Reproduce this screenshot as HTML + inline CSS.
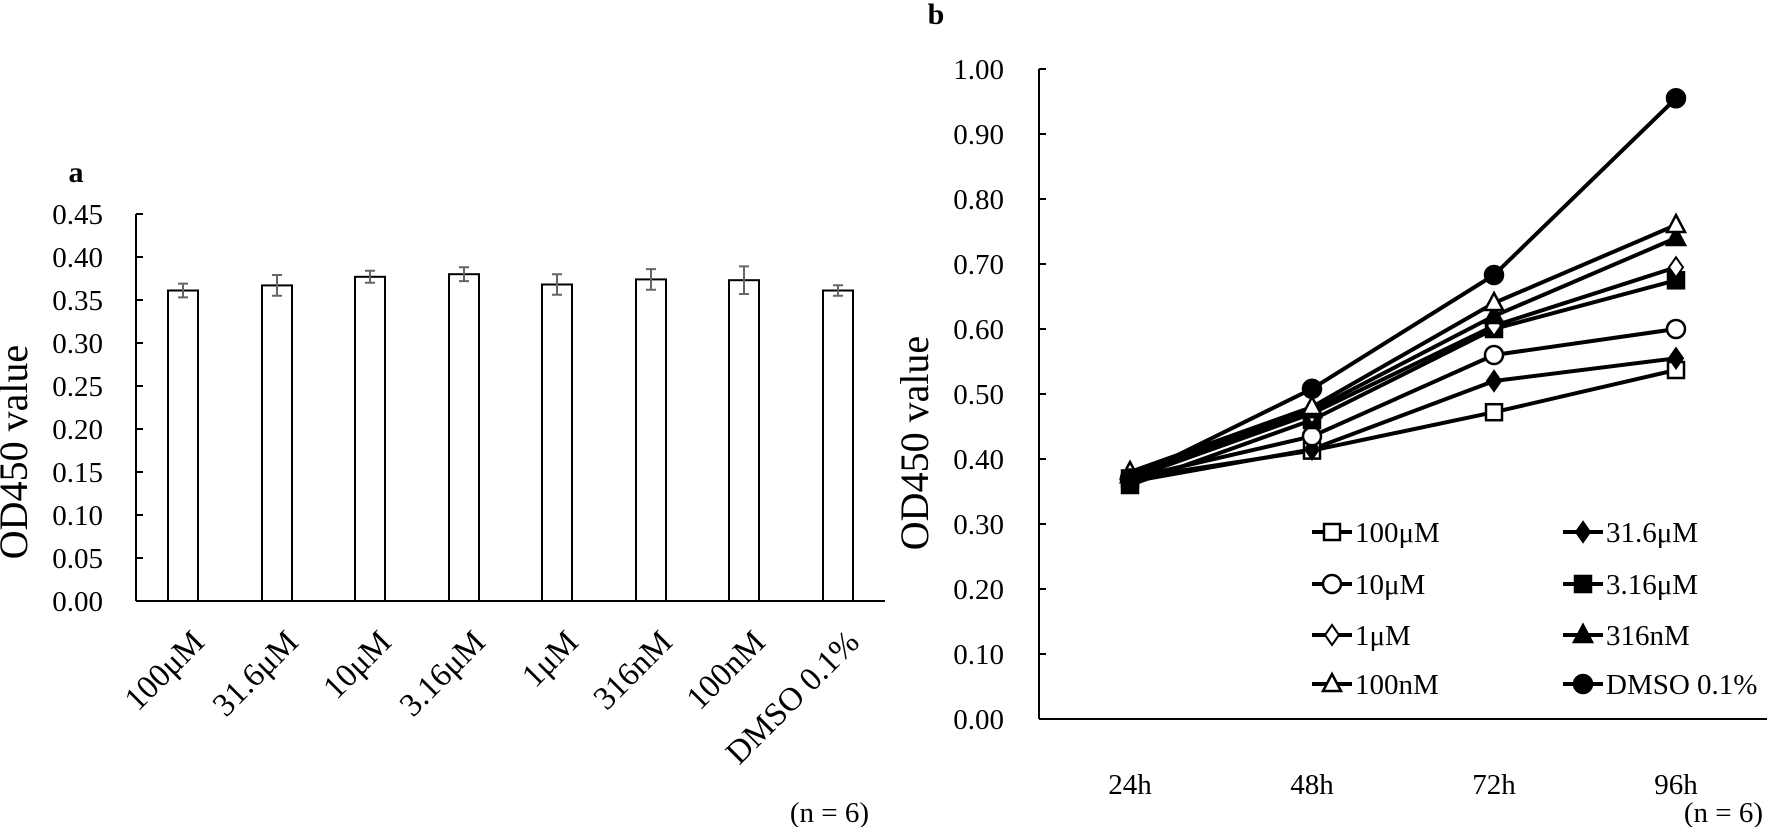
<!DOCTYPE html>
<html><head><meta charset="utf-8"><style>
html,body{margin:0;padding:0;background:#fff;}
svg{display:block;font-family:"Liberation Serif",serif;}
</style></head><body>
<svg width="1767" height="827" viewBox="0 0 1767 827" xmlns="http://www.w3.org/2000/svg">
<!-- Panel a -->
<text x="76" y="182" font-size="30" font-weight="bold" text-anchor="middle">a</text>
<g stroke="#000" stroke-width="2" fill="none">
<line x1="136" y1="214" x2="136" y2="601"/>
<line x1="136" y1="601" x2="885" y2="601"/>
<line x1="136" y1="214" x2="143" y2="214"/><line x1="136" y1="257" x2="143" y2="257"/>
<line x1="136" y1="300" x2="143" y2="300"/><line x1="136" y1="343" x2="143" y2="343"/>
<line x1="136" y1="386" x2="143" y2="386"/><line x1="136" y1="429" x2="143" y2="429"/>
<line x1="136" y1="472" x2="143" y2="472"/><line x1="136" y1="515" x2="143" y2="515"/>
<line x1="136" y1="558" x2="143" y2="558"/>
</g>
<g font-size="29" text-anchor="end">
<text x="103" y="224">0.45</text><text x="103" y="267">0.40</text><text x="103" y="310">0.35</text>
<text x="103" y="353">0.30</text><text x="103" y="396">0.25</text><text x="103" y="439">0.20</text>
<text x="103" y="482">0.15</text><text x="103" y="525">0.10</text><text x="103" y="568">0.05</text>
<text x="103" y="611">0.00</text>
</g>
<text transform="translate(27,452) rotate(-90)" font-size="40" text-anchor="middle">OD450 value</text>
<g stroke="#000" stroke-width="2" fill="#fff">
<rect x="168" y="290.5" width="30" height="310.5"/>
<rect x="262" y="285.4" width="30" height="315.6"/>
<rect x="355" y="276.8" width="30" height="324.2"/>
<rect x="449" y="274.2" width="30" height="326.8"/>
<rect x="542" y="284.5" width="30" height="316.5"/>
<rect x="636" y="279.4" width="30" height="321.6"/>
<rect x="729" y="280.2" width="30" height="320.8"/>
<rect x="823" y="290.5" width="30" height="310.5"/>
</g>
<g stroke="#666" stroke-width="2" fill="none">
<path d="M183 283.6V297.4M178 283.6h10M178 297.4h10"/>
<path d="M277 275V295.8M272 275h10M272 295.8h10"/>
<path d="M370 270.8V282.8M365 270.8h10M365 282.8h10"/>
<path d="M464 267.3V281.1M459 267.3h10M459 281.1h10"/>
<path d="M557 274.2V294.8M552 274.2h10M552 294.8h10"/>
<path d="M651 269.1V289.7M646 269.1h10M646 289.7h10"/>
<path d="M744 266.4V294M739 266.4h10M739 294h10"/>
<path d="M838 285.3V295.7M833 285.3h10M833 295.7h10"/>
</g>
<g font-size="33" text-anchor="end">
<text transform="translate(206,644) rotate(-45)">100μM</text>
<text transform="translate(300,644) rotate(-45)">31.6μM</text>
<text transform="translate(393,644) rotate(-45)">10μM</text>
<text transform="translate(487,644) rotate(-45)">3.16μM</text>
<text transform="translate(580,644) rotate(-45)">1μM</text>
<text transform="translate(674,644) rotate(-45)">316nM</text>
<text transform="translate(767,644) rotate(-45)">100nM</text>
<text transform="translate(861,644) rotate(-45)">DMSO 0.1%</text>
</g>
<text x="869" y="822" font-size="29" text-anchor="end">(n = 6)</text>

<!-- Panel b -->
<text x="936" y="24" font-size="30" font-weight="bold" text-anchor="middle">b</text>
<g stroke="#000" stroke-width="2" fill="none">
<line x1="1039" y1="69" x2="1039" y2="719"/>
<line x1="1039" y1="719" x2="1767" y2="719"/>
<path d="M1039 69h7M1039 134h7M1039 199h7M1039 264h7M1039 329h7M1039 394h7M1039 459h7M1039 524h7M1039 589h7M1039 654h7"/>
</g>
<g font-size="29" text-anchor="end">
<text x="1004" y="79">1.00</text><text x="1004" y="144">0.90</text><text x="1004" y="209">0.80</text>
<text x="1004" y="274">0.70</text><text x="1004" y="339">0.60</text><text x="1004" y="404">0.50</text>
<text x="1004" y="469">0.40</text><text x="1004" y="534">0.30</text><text x="1004" y="599">0.20</text>
<text x="1004" y="664">0.10</text><text x="1004" y="729">0.00</text>
</g>
<text transform="translate(928,443) rotate(-90)" font-size="40" text-anchor="middle">OD450 value</text>
<g font-size="29" text-anchor="middle">
<text x="1130" y="794">24h</text><text x="1312" y="794">48h</text>
<text x="1494" y="794">72h</text><text x="1676" y="794">96h</text>
</g>
<g stroke="#000" stroke-width="4" fill="none" stroke-linejoin="round">
<polyline points="1130,478.5 1312,450.6 1494,412.2 1676,370"/>
<polyline points="1130,481.8 1312,449.3 1494,381 1676,358.3"/>
<polyline points="1130,478.5 1312,436.3 1494,355 1676,329"/>
<polyline points="1130,485 1312,420 1494,329 1676,280.3"/>
<polyline points="1130,478.5 1312,413.5 1494,325.8 1676,267.3"/>
<polyline points="1130,475.3 1312,410.3 1494,316 1676,238"/>
<polyline points="1130,472 1312,407 1494,303 1676,225"/>
<polyline points="1130,478.5 1312,388.8 1494,275 1676,98.3"/>
</g>
<defs>
<rect id="sq" x="-8" y="-8" width="16" height="16" stroke="#000" stroke-width="2.5"/>
<path id="dm" d="M0,-10 L7,0 L0,10 L-7,0Z" stroke="#000" stroke-width="2"/>
<circle id="ci" r="9" stroke="#000" stroke-width="2.5"/>
<path id="tr" d="M0,-10 L9,7 L-9,7Z" stroke="#000" stroke-width="2.5"/>
</defs>
<g fill="#fff">
<use href="#sq" x="1130" y="478.5"/><use href="#sq" x="1312" y="450.6"/><use href="#sq" x="1494" y="412.2"/><use href="#sq" x="1676" y="370"/>
</g>
<g fill="#000">
<use href="#dm" x="1130" y="481.8"/><use href="#dm" x="1312" y="449.3"/><use href="#dm" x="1494" y="381"/><use href="#dm" x="1676" y="358.3"/>
</g>
<g fill="#fff">
<use href="#ci" x="1130" y="478.5"/><use href="#ci" x="1312" y="436.3"/><use href="#ci" x="1494" y="355"/><use href="#ci" x="1676" y="329"/>
</g>
<g fill="#000">
<use href="#sq" x="1130" y="485"/><use href="#sq" x="1312" y="420"/><use href="#sq" x="1494" y="329"/><use href="#sq" x="1676" y="280.3"/>
</g>
<g fill="#fff">
<use href="#dm" x="1130" y="478.5"/><use href="#dm" x="1312" y="413.5"/><use href="#dm" x="1494" y="325.8"/><use href="#dm" x="1676" y="267.3"/>
</g>
<g fill="#000">
<use href="#tr" x="1130" y="475.3"/><use href="#tr" x="1312" y="410.3"/><use href="#tr" x="1494" y="316"/><use href="#tr" x="1676" y="238"/>
</g>
<g fill="#fff">
<use href="#tr" x="1130" y="472"/><use href="#tr" x="1312" y="407"/><use href="#tr" x="1494" y="303"/><use href="#tr" x="1676" y="225"/>
</g>
<g fill="#000">
<use href="#ci" x="1130" y="478.5"/><use href="#ci" x="1312" y="388.8"/><use href="#ci" x="1494" y="275"/><use href="#ci" x="1676" y="98.3"/>
</g>
<!-- legend -->
<g stroke="#000" stroke-width="4">
<line x1="1312" y1="532" x2="1352" y2="532"/><line x1="1312" y1="584" x2="1352" y2="584"/>
<line x1="1312" y1="635" x2="1352" y2="635"/><line x1="1312" y1="684" x2="1352" y2="684"/>
<line x1="1563" y1="532" x2="1603" y2="532"/><line x1="1563" y1="584" x2="1603" y2="584"/>
<line x1="1563" y1="635" x2="1603" y2="635"/><line x1="1563" y1="684" x2="1603" y2="684"/>
</g>
<use href="#sq" x="1332" y="532" fill="#fff"/>
<use href="#ci" x="1332" y="584" fill="#fff"/>
<use href="#dm" x="1332" y="635" fill="#fff"/>
<use href="#tr" x="1332" y="684" fill="#fff"/>
<use href="#dm" x="1583" y="532" fill="#000"/>
<use href="#sq" x="1583" y="584" fill="#000"/>
<use href="#tr" x="1583" y="635" fill="#000"/>
<use href="#ci" x="1583" y="684" fill="#000"/>
<g font-size="29">
<text x="1355" y="542">100μM</text><text x="1355" y="594">10μM</text>
<text x="1355" y="645">1μM</text><text x="1355" y="694">100nM</text>
<text x="1606" y="542">31.6μM</text><text x="1606" y="594">3.16μM</text>
<text x="1606" y="645">316nM</text><text x="1606" y="694">DMSO 0.1%</text>
</g>
<text x="1763" y="822" font-size="29" text-anchor="end">(n = 6)</text>
</svg>
</body></html>
